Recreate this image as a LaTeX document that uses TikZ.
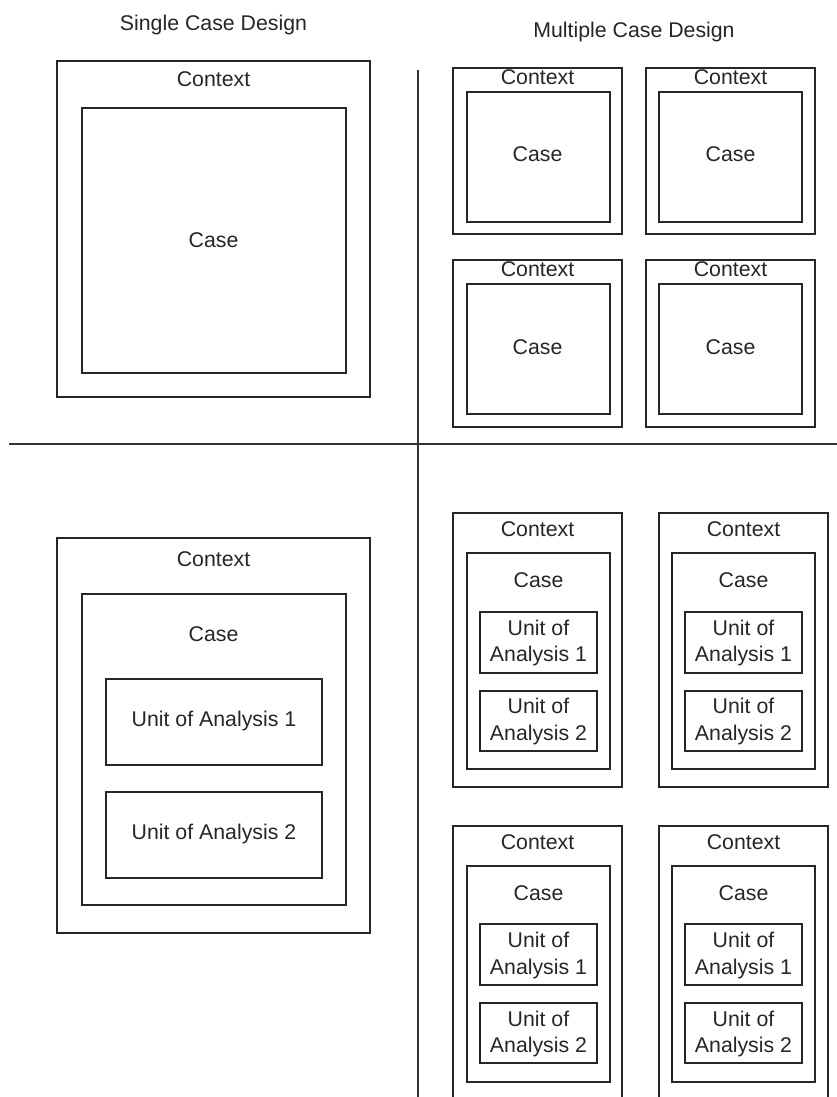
\documentclass[tikz,border=0pt]{standalone}
\usepackage{fontspec}
\setmainfont{Liberation Sans}
\tikzset{
  bx/.style={draw=black!85, line width=1.8pt, inner sep=0pt, outer sep=0pt},
  lbl/.style={anchor=base, inner sep=0pt, outer sep=0pt, text=black!85, font=\fontsize{21.3}{26.7}\selectfont},
  sepline/.style={draw=black!80, line width=2pt}
}
\newcommand\boxat[5]{\node[bx, minimum width={(#4-#2)*1pt}, minimum height={(#5-#3)*1pt}] (#1) at ({(#2+#4)/2},{(#3+#5)/2}) {};}
\newcommand\txtnode[4]{\node[lbl] (#1) at (#2,#3) {#4};}
\begin{document}
\begin{tikzpicture}[x=1pt,y=-1pt]
\useasboundingbox (0,0) rectangle (837,1097);
\clip (0,0) rectangle (837,1097);
% titles
\txtnode{t1}{213.5}{30.7}{Single Case Design}
\txtnode{t2}{634}{37.5}{Multiple Case Design}
% separators
\coordinate (hl) at (9,444);
\coordinate (hr) at (837,444);
\coordinate (vt) at (418,70);
\coordinate (vb) at (418,1097);
\draw[sepline] (hl) -- (hr);
\draw[sepline] (vt) -- (vb);
% top-left single
\boxat{ctxA}{57}{61}{370}{397}
\boxat{caseA}{82}{108}{346}{373}
\txtnode{ctxAt}{213.5}{86.7}{Context}
\txtnode{caseAt}{213.5}{247}{Case}
% top-right multiple (4)
\boxat{ctxB1}{453}{68}{622}{234}
\boxat{caseB1}{467}{92}{610}{222}
\txtnode{ctxB1t}{537.5}{84.3}{Context}
\txtnode{caseB1t}{537.5}{161.7}{Case}
\boxat{ctxB2}{646}{68}{815}{234}
\boxat{caseB2}{659}{92}{802}{222}
\txtnode{ctxB2t}{730.5}{84.3}{Context}
\txtnode{caseB2t}{730.5}{161.7}{Case}
\boxat{ctxB3}{453}{260}{622}{427}
\boxat{caseB3}{467}{284}{610}{414}
\txtnode{ctxB3t}{537.5}{276}{Context}
\txtnode{caseB3t}{537.5}{354}{Case}
\boxat{ctxB4}{646}{260}{815}{427}
\boxat{caseB4}{659}{284}{802}{414}
\txtnode{ctxB4t}{730.5}{276}{Context}
\txtnode{caseB4t}{730.5}{354}{Case}
% bottom-left single embedded
\boxat{ctxC}{57}{538}{370}{933}
\boxat{caseC}{82}{594}{346}{905}
\boxat{uC1}{106}{679}{322}{765}
\boxat{uC2}{106}{792}{322}{878}
\txtnode{ctxCt}{213.5}{566.7}{Context}
\txtnode{caseCt}{213.5}{641.7}{Case}
\txtnode{uC1t}{214}{726.7}{Unit of Analysis 1}
\txtnode{uC2t}{214}{839}{Unit of Analysis 2}
% bottom-right multiple embedded (4)
% row 1 col 1
\boxat{ctxD1}{453}{513}{622}{787}
\boxat{caseD1}{467}{553}{610}{769}
\boxat{uD1a}{480}{612}{597}{673}
\boxat{uD1b}{480}{691}{597}{751}
\txtnode{ctxD1t}{537.5}{536}{Context}
\txtnode{caseD1t}{538.5}{587.3}{Case}
\txtnode{uD1a1}{538.5}{635}{Unit of}
\txtnode{uD1a2}{538.5}{661.7}{Analysis 1}
\txtnode{uD1b1}{538.5}{713.3}{Unit of}
\txtnode{uD1b2}{538.5}{740}{Analysis 2}
% row 1 col 2
\boxat{ctxD2}{659}{513}{828}{787}
\boxat{caseD2}{672}{553}{815}{769}
\boxat{uD2a}{685}{612}{802}{673}
\boxat{uD2b}{685}{691}{802}{751}
\txtnode{ctxD2t}{743.5}{536}{Context}
\txtnode{caseD2t}{743.5}{587.3}{Case}
\txtnode{uD2a1}{743.5}{635}{Unit of}
\txtnode{uD2a2}{743.5}{661.7}{Analysis 1}
\txtnode{uD2b1}{743.5}{713.3}{Unit of}
\txtnode{uD2b2}{743.5}{740}{Analysis 2}
% row 2 col 1
\boxat{ctxD3}{453}{826}{622}{1102}
\boxat{caseD3}{467}{866}{610}{1082}
\boxat{uD3a}{480}{924}{597}{985}
\boxat{uD3b}{480}{1003}{597}{1063}
\txtnode{ctxD3t}{537.5}{849.3}{Context}
\txtnode{caseD3t}{538.5}{900}{Case}
\txtnode{uD3a1}{538.5}{947.7}{Unit of}
\txtnode{uD3a2}{538.5}{974}{Analysis 1}
\txtnode{uD3b1}{538.5}{1026}{Unit of}
\txtnode{uD3b2}{538.5}{1052.3}{Analysis 2}
% row 2 col 2
\boxat{ctxD4}{659}{826}{828}{1102}
\boxat{caseD4}{672}{866}{815}{1082}
\boxat{uD4a}{685}{924}{802}{985}
\boxat{uD4b}{685}{1003}{802}{1063}
\txtnode{ctxD4t}{743.5}{849.3}{Context}
\txtnode{caseD4t}{743.5}{900}{Case}
\txtnode{uD4a1}{743.5}{947.7}{Unit of}
\txtnode{uD4a2}{743.5}{974}{Analysis 1}
\txtnode{uD4b1}{743.5}{1026}{Unit of}
\txtnode{uD4b2}{743.5}{1052.3}{Analysis 2}
\end{tikzpicture}
\end{document}
